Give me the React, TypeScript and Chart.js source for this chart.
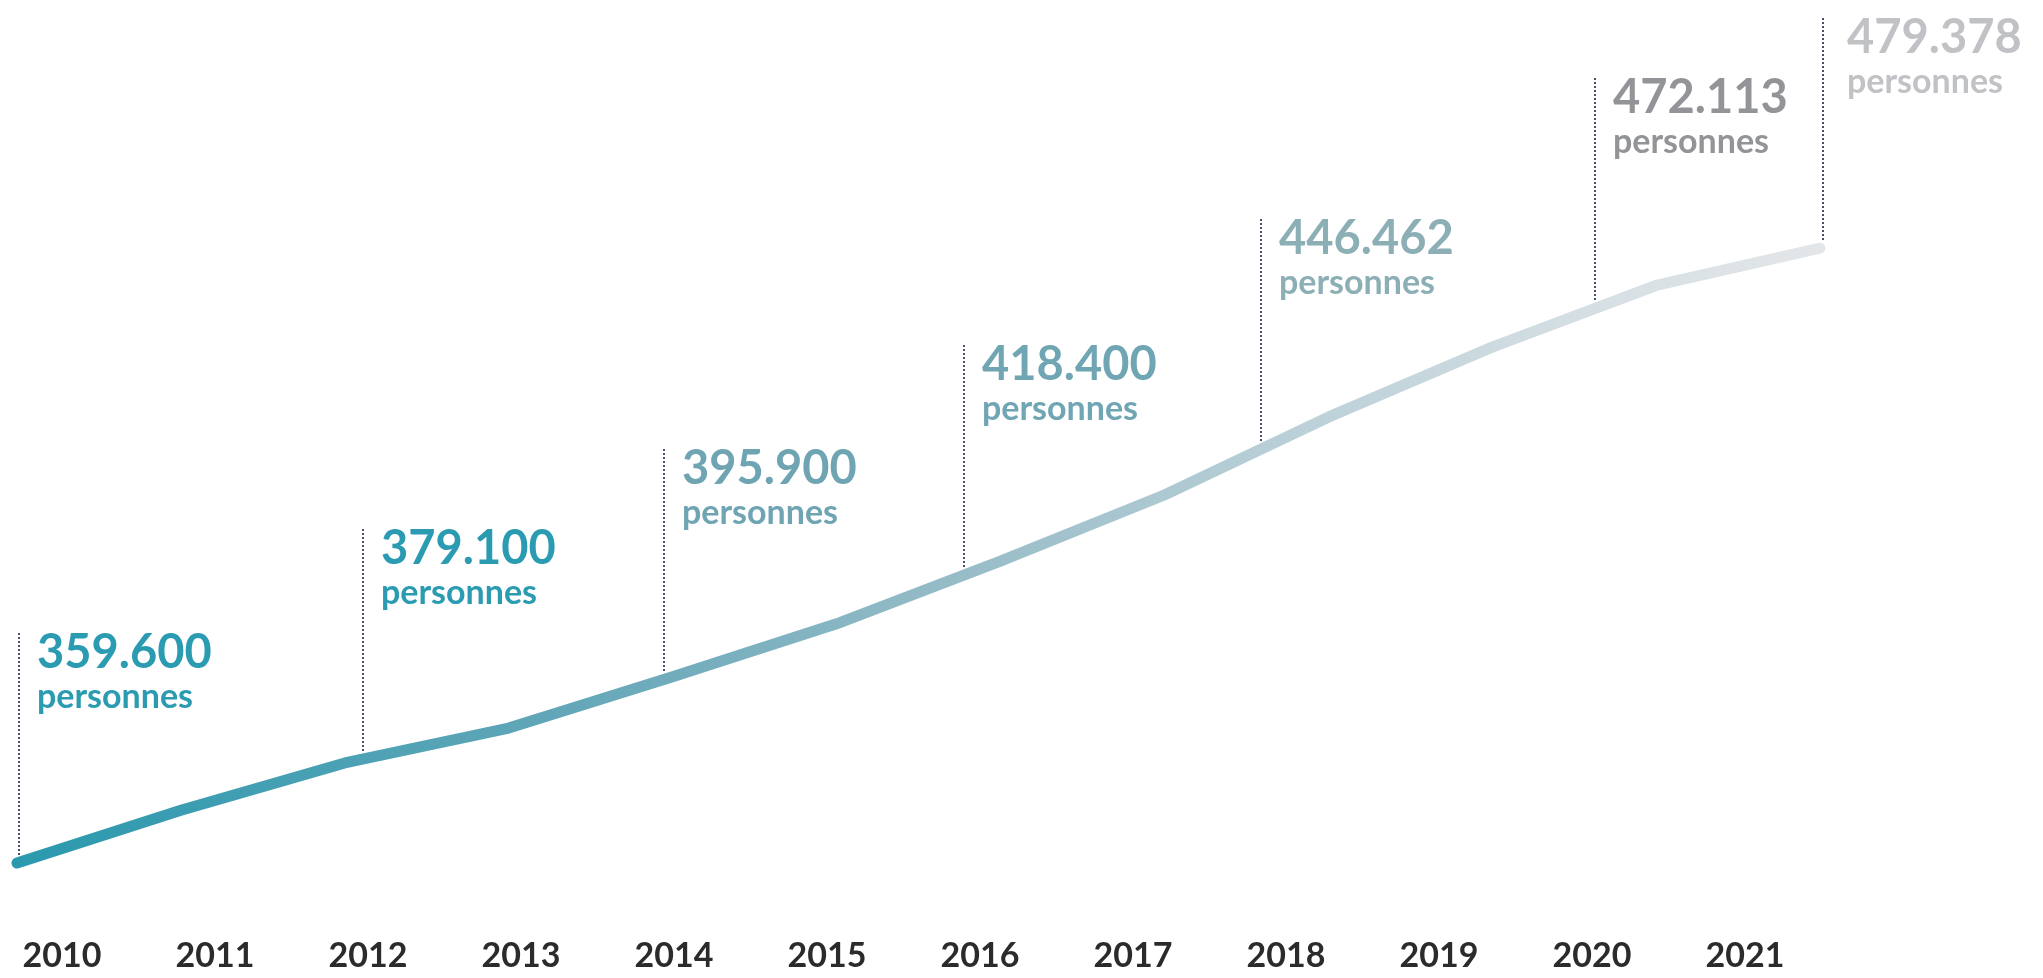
import React, { useEffect, useRef } from "react";
import { Chart, registerables } from "chart.js";

Chart.register(...registerables);

// ---- data ----
const years = [2010, 2011, 2012, 2013, 2014, 2015, 2016, 2017, 2018, 2019, 2020, 2021];
const persons = [359600, 369900, 379100, 385900, 395900, 406200, 418400, 431300, 446462, 460100, 472113, 479378];
const tickYears = [2010, 2011, 2012, 2013, 2014, 2015, 2016, 2017, 2018, 2019, 2020, 2021];

const calloutAt = [2010.01, 2012.11, 2013.95, 2015.78, 2017.59, 2019.63, 2021.02];
const calloutValues = ["359.600", "379.100", "395.900", "418.400", "446.462", "472.113", "479.378"];
const calloutUnit = "personnes";
const calloutColors = ["#2b9bb2", "#2b9bb2", "#6fa5b3", "#70a6b3", "#8cafb5", "#939497", "#c1c2c5"];
const calloutGap = [18, 18, 18, 18, 18, 18, 24];

function valueAt(x: number): number {
  if (x <= years[0]) return persons[0];
  const n = years.length;
  if (x >= years[n - 1]) return persons[n - 1];
  for (let i = 0; i < n - 1; i++) {
    if (x >= years[i] && x <= years[i + 1]) {
      const t = (x - years[i]) / (years[i + 1] - years[i]);
      return persons[i] + t * (persons[i + 1] - persons[i]);
    }
  }
  return persons[n - 1];
}

const calloutPlugin = {
  id: "callouts",
  afterDatasetsDraw(chart: any) {
    const { ctx } = chart;
    const xs = chart.scales.x;
    const ys = chart.scales.y;
    calloutAt.forEach((ax, i) => {
      const px = Math.round(xs.getPixelForValue(ax));
      const py = ys.getPixelForValue(valueAt(ax));
      const top = py - 230;
      const bottom = py - 7;
      ctx.save();
      ctx.strokeStyle = "#4a5068";
      ctx.lineWidth = 2;
      ctx.setLineDash([2, 2]);
      ctx.beginPath();
      ctx.moveTo(px, Math.round(top));
      ctx.lineTo(px, bottom);
      ctx.stroke();
      ctx.setLineDash([]);
      ctx.fillStyle = calloutColors[i];
      ctx.textAlign = "left";
      ctx.textBaseline = "alphabetic";
      ctx.font = "bold 47px Lato";
      ctx.fillText(calloutValues[i], px + calloutGap[i], top + 35);
      ctx.font = "bold 34px Lato";
      ctx.fillText(calloutUnit, px + calloutGap[i], top + 75);
      ctx.restore();
    });
  },
};

export default function App() {
  const canvasRef = useRef<HTMLCanvasElement | null>(null);

  useEffect(() => {
    const canvas = canvasRef.current;
    if (!canvas) return;
    const chart = new Chart(canvas, {
      type: "line",
      data: {
        datasets: [
          {
            data: years.map((y, i) => ({ x: y, y: persons[i] })),
            xAxisID: "x",
            yAxisID: "y",
            borderWidth: 11,
            borderCapStyle: "round",
            borderJoinStyle: "round",
            pointRadius: 0,
            pointHoverRadius: 0,
            tension: 0,
            fill: false,
            clip: false,
            borderColor: (c: any) => {
              const area = c.chart.chartArea;
              if (!area) return "#2b9bb2";
              const g = c.chart.ctx.createLinearGradient(area.left, 0, area.right, 0);
              g.addColorStop(0, "#2a99ae");
              g.addColorStop(0.3, "#62a6b8");
              g.addColorStop(0.5, "#92bac6");
              g.addColorStop(0.7, "#b9cfd7");
              g.addColorStop(0.87, "#d5dfe3");
              g.addColorStop(1, "#e3e6e9");
              return g;
            },
          } as any,
        ],
      },
      options: {
        animation: false,
        responsive: false,
        maintainAspectRatio: false,
        events: [],
        layout: { padding: { left: 17, right: 223, top: 14, bottom: 4 } },
        plugins: {
          legend: { display: false },
          tooltip: { enabled: false },
          title: { display: false },
        },
        scales: {
          x: {
            type: "linear",
            min: 2010,
            max: 2021,
            display: false,
          },
          xl: {
            type: "linear",
            position: "bottom",
            min: 2009.706,
            max: 2021.49,
            grid: { display: false, drawTicks: false },
            border: { display: false },
            afterBuildTicks: (scale: any) => {
              scale.ticks = tickYears.map((v) => ({ value: v }));
            },
            ticks: {
              autoSkip: false,
              maxRotation: 0,
              padding: 1,
              color: "#2b2b2b",
              font: { family: "Lato", size: 34, weight: "bold", lineHeight: 1 },
              callback: (v: any) => String(v),
            },
          },
          y: {
            type: "linear",
            min: 345000,
            max: 525000,
            display: false,
          },
        },
      } as any,
      plugins: [calloutPlugin],
    });
    return () => chart.destroy();
  }, []);

  return (
    <div style={{ position: "absolute", left: 0, top: 0, width: 2043, height: 978, background: "#fff" }}>
      <canvas ref={canvasRef} width={2043} height={978} style={{ display: "block", width: 2043, height: 978 }} />
    </div>
  );
}
